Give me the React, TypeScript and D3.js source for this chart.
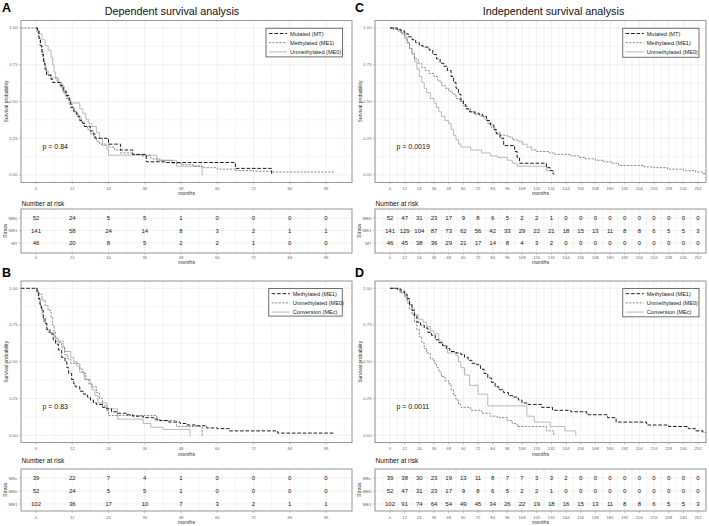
import React from 'react';
import * as d3 from 'd3';

type Pt = [number, number];

const FONT = "'Liberation Sans', Arial, Helvetica, sans-serif";

// ---------- tick labels ----------
const ticksAB = [0, 12, 24, 36, 48, 60, 72, 84, 96];
const ticksCD = [0, 12, 24, 36, 48, 60, 72, 84, 96, 108, 120, 132, 144, 156, 168, 180, 192, 204, 216, 228, 240, 252];
const yTicks = [0, 0.25, 0.5, 0.75, 1];
const yTickLabels = ['0.00', '0.25', '0.50', '0.75', '1.00'];
const yGrid = [0, 0.125, 0.25, 0.375, 0.5, 0.625, 0.75, 0.875, 1];

// ---------- survival curves (time in months, survival probability) ----------
const A_MT: Pt[] = [[0, 1], [0.5, 0.98], [1, 0.93], [1.5, 0.88], [2, 0.82], [2.5, 0.76], [3, 0.72], [3.5, 0.68], [5, 0.65], [5.5, 0.63], [8, 0.61], [9, 0.57], [10, 0.54], [11, 0.5], [11.5, 0.46], [12.5, 0.43], [13.5, 0.4], [14.5, 0.37], [15.5, 0.35], [16, 0.33], [18, 0.3], [19, 0.28], [19.5, 0.25], [24, 0.21], [28, 0.17], [32, 0.14], [36.5, 0.09], [43, 0.085], [66, 0.045], [78, 0.01], [78.3, 0.01]];
const A_ME1: Pt[] = [[-5, 1], [0.3, 0.97], [0.8, 0.93], [1.3, 0.88], [1.8, 0.84], [2.3, 0.79], [2.8, 0.75], [3.3, 0.71], [4, 0.68], [5, 0.66], [7, 0.63], [8, 0.6], [9, 0.56], [10, 0.52], [11, 0.48], [12, 0.45], [13, 0.42], [14, 0.39], [15, 0.36], [16, 0.33], [17, 0.31], [18, 0.28], [19, 0.26], [20, 0.23], [21, 0.21], [24, 0.19], [26, 0.17], [28, 0.15], [32, 0.14], [35, 0.13], [38, 0.11], [41, 0.1], [45, 0.08], [48, 0.07], [52, 0.06], [55, 0.05], [60, 0.04], [66, 0.03], [72, 0.025], [78, 0.02], [99, 0.02]];
const AB_ME0: Pt[] = [[0, 1], [0.5, 0.98], [1, 0.96], [2, 0.92], [3, 0.88], [4, 0.85], [5, 0.8], [5.5, 0.75], [6, 0.7], [6.5, 0.66], [7.5, 0.63], [8.5, 0.6], [9.5, 0.55], [10.5, 0.52], [11.5, 0.49], [14.5, 0.45], [15.5, 0.42], [16.5, 0.38], [17.5, 0.35], [18.5, 0.33], [20, 0.29], [21, 0.25], [22, 0.2], [23.5, 0.17], [24, 0.135], [40, 0.1], [46.5, 0.06], [55, 0], [55.2, 0]];
const B_ME1: Pt[] = [[-5, 1], [0.3, 0.97], [0.8, 0.93], [1.3, 0.89], [1.8, 0.85], [2.4, 0.8], [3, 0.76], [3.6, 0.72], [4.6, 0.69], [5.7, 0.65], [6.5, 0.62], [7.4, 0.58], [8.5, 0.53], [9.6, 0.5], [10.2, 0.46], [10.8, 0.42], [11.8, 0.38], [12.5, 0.35], [13, 0.33], [14.5, 0.3], [15.7, 0.28], [17, 0.26], [18, 0.24], [19, 0.22], [20, 0.21], [22, 0.19], [23.4, 0.18], [25, 0.16], [27, 0.15], [30, 0.14], [32, 0.13], [35.5, 0.12], [39, 0.11], [41, 0.1], [44, 0.09], [47.7, 0.08], [50, 0.07], [53, 0.065], [56.5, 0.05], [60, 0.045], [64, 0.03], [80, 0.015], [99, 0.015]];
const B_MEc: Pt[] = [[0, 1], [0.5, 0.97], [1, 0.92], [1.5, 0.87], [2, 0.82], [2.5, 0.77], [3.5, 0.72], [4, 0.7], [6, 0.67], [6.5, 0.64], [9, 0.6], [9.5, 0.57], [11.5, 0.53], [12.5, 0.5], [13.5, 0.47], [14.5, 0.43], [16, 0.38], [18, 0.35], [18.5, 0.31], [19.5, 0.27], [20.5, 0.22], [23.5, 0.18], [27, 0.11], [35.5, 0.08], [38, 0.055], [42, 0.04], [51, 0], [51.2, 0]];

const C_MT: Pt[] = [[0, 1], [6, 0.99], [9, 0.98], [12, 0.96], [15, 0.94], [18, 0.92], [21, 0.9], [24, 0.88], [27, 0.87], [32, 0.85], [35, 0.82], [38, 0.79], [41, 0.76], [44, 0.74], [47, 0.71], [50, 0.67], [52, 0.63], [54, 0.59], [56, 0.55], [58, 0.51], [60, 0.48], [62, 0.45], [65, 0.43], [69, 0.42], [73, 0.41], [76, 0.4], [79, 0.37], [82, 0.34], [85, 0.31], [87, 0.28], [90, 0.25], [93, 0.2], [102, 0.16], [104, 0.12], [106, 0.08], [128, 0.05], [131, 0.03], [133, 0.01], [134, 0.01]];
const C_ME1: Pt[] = [[0, 1], [3, 0.99], [6, 0.98], [9, 0.96], [12, 0.93], [14, 0.9], [16, 0.86], [18, 0.83], [20, 0.79], [23, 0.76], [26, 0.73], [29, 0.71], [32, 0.69], [36, 0.67], [39, 0.64], [42, 0.61], [45, 0.59], [48, 0.57], [51, 0.55], [54, 0.52], [57, 0.5], [60, 0.47], [63, 0.45], [66, 0.43], [70, 0.41], [74, 0.4], [77, 0.38], [80, 0.35], [83, 0.32], [86, 0.29], [90, 0.27], [96, 0.26], [100, 0.24], [104, 0.23], [108, 0.21], [112, 0.19], [116, 0.17], [120, 0.16], [130, 0.15], [135, 0.14], [148, 0.13], [155, 0.12], [160, 0.11], [168, 0.1], [175, 0.09], [181, 0.08], [187, 0.065], [208, 0.055], [216, 0.05], [227, 0.04], [240, 0.03], [250, 0.02], [256, 0.01], [259, 0.01]];
const CD_ME0: Pt[] = [[0, 1], [6, 0.99], [9, 0.97], [12, 0.94], [14, 0.9], [16, 0.86], [18, 0.82], [20, 0.77], [22, 0.72], [24, 0.67], [26, 0.63], [28, 0.59], [30, 0.56], [33, 0.52], [36, 0.49], [38, 0.46], [40, 0.43], [42, 0.4], [45, 0.37], [48, 0.35], [50, 0.31], [52, 0.27], [54, 0.24], [56, 0.21], [58, 0.19], [66, 0.17], [75, 0.15], [82, 0.13], [88, 0.12], [96, 0.1], [100, 0.08], [104, 0.06], [128, 0.03], [134, 0], [134.5, 0]];
const D_ME1: Pt[] = [[0, 1], [6, 0.995], [9, 0.98], [12, 0.96], [14, 0.93], [16, 0.89], [18, 0.85], [20, 0.81], [22, 0.77], [25, 0.75], [28, 0.73], [31, 0.7], [34, 0.68], [37, 0.65], [40, 0.63], [43, 0.61], [46, 0.59], [49, 0.57], [54, 0.56], [58, 0.55], [61, 0.53], [64, 0.51], [67, 0.49], [71, 0.48], [74, 0.45], [77, 0.42], [80, 0.39], [83, 0.36], [86, 0.33], [89, 0.31], [93, 0.29], [97, 0.27], [101, 0.26], [105, 0.24], [108, 0.22], [112, 0.21], [124, 0.19], [133, 0.17], [148, 0.16], [161, 0.14], [178, 0.12], [185, 0.09], [210, 0.07], [228, 0.06], [244, 0.045], [250, 0.03], [256, 0.02], [259, 0.02]];
const D_MEc: Pt[] = [[0, 1], [8, 0.97], [12, 0.95], [14, 0.92], [16, 0.89], [18, 0.86], [20, 0.82], [23, 0.79], [27, 0.77], [30, 0.74], [33, 0.71], [36, 0.69], [40, 0.64], [43, 0.61], [47, 0.56], [54, 0.54], [56, 0.5], [58, 0.46], [61, 0.41], [65, 0.34], [72, 0.28], [80, 0.2], [112, 0.13], [118, 0.09], [131, 0.06], [143, 0.03], [152, 0], [152.5, 0]];

// ---------- numbers at risk ----------
const riskA_ME0 = [52, 24, 5, 5, 1, 0, 0, 0, 0];
const riskA_ME1 = [141, 58, 24, 14, 8, 3, 2, 1, 1];
const riskA_MT = [46, 20, 8, 5, 2, 2, 1, 0, 0];
const riskB_MEc = [39, 22, 7, 4, 1, 0, 0, 0, 0];
const riskB_ME0 = [52, 24, 5, 5, 1, 0, 0, 0, 0];
const riskB_ME1 = [102, 36, 17, 10, 7, 3, 2, 1, 1];
const riskC_ME0 = [52, 47, 31, 23, 17, 9, 8, 6, 5, 2, 2, 1, 0, 0, 0, 0, 0, 0, 0, 0, 0, 0];
const riskC_ME1 = [141, 129, 104, 87, 73, 62, 56, 42, 33, 29, 22, 21, 18, 15, 13, 11, 8, 8, 6, 5, 5, 3];
const riskC_MT = [46, 45, 38, 36, 29, 21, 17, 14, 8, 4, 3, 2, 0, 0, 0, 0, 0, 0, 0, 0, 0, 0];
const riskD_MEc = [39, 38, 30, 23, 19, 13, 11, 8, 7, 7, 3, 3, 2, 0, 0, 0, 0, 0, 0, 0, 0, 0];
const riskD_ME0 = [52, 47, 31, 23, 17, 9, 8, 6, 5, 2, 2, 1, 0, 0, 0, 0, 0, 0, 0, 0, 0, 0];
const riskD_ME1 = [102, 91, 74, 64, 54, 49, 45, 34, 26, 22, 19, 18, 16, 15, 13, 11, 8, 8, 6, 5, 5, 3];

// ---------- styles ----------
const DARK = { color: '#1c1c1c', dash: '3.6,1.8', width: 1.0 };
const MID = { color: '#7a7a7a', dash: '2.2,1.3', width: 0.85 };
const LIGHT = { color: '#b9b9b9', dash: '', width: 1.0 };

interface Series { name: string; data: Pt[]; color: string; dash: string; width: number; }
interface PanelCfg {
  letter: string; letterX: number; letterY: number;
  title?: string; titleX?: number;
  x0: number; x1: number; y0: number; y1: number;
  xDom: [number, number]; xRange: [number, number]; yRange: [number, number];
  xTicks: number[];
  series: Series[];
  legend: { x: number; y: number; w: number; h: number };
  pText: string; pY: number;
  riskLabels: string[]; riskValues: number[][];
  rTop: number; rBottom: number; rRow0: number; rRow1: number; rTitleY: number; rTickY: number; rMonthsY: number;
  xTickY: number; xMonthsY: number;
}

const colA = { x0: 21, x1: 352, xDom: [0, 96] as [number, number], xRange: [36, 326] as [number, number], xTicks: ticksAB };
const colC = { x0: 375, x1: 706, xDom: [0, 252] as [number, number], xRange: [390, 698] as [number, number], xTicks: ticksCD };
const rowTop = { y0: 20.6, y1: 182.4, yRange: [175, 28] as [number, number], letterY: 12, legendY: 28.3, pY: 148.5,
  rTop: 209, rBottom: 253, rRow0: 218, rRow1: 243, rTitleY: 205.5, rTickY: 259, rMonthsY: 264, xTickY: 189.6, xMonthsY: 195 };
const rowBot = { y0: 281, y1: 442.6, yRange: [435.3, 288.3] as [number, number], letterY: 276.5, legendY: 288.5, pY: 409,
  rTop: 469, rBottom: 511, rRow0: 478, rRow1: 504, rTitleY: 462.5, rTickY: 519, rMonthsY: 524, xTickY: 450.2, xMonthsY: 455.6 };

const panels: PanelCfg[] = [
  {
    letter: 'A', letterX: 2, title: 'Dependent survival analysis', titleX: 172, ...colA, ...rowTop,
    series: [
      { name: 'Mutated (MT)', data: A_MT, ...DARK },
      { name: 'Methylated (ME1)', data: A_ME1, ...MID },
      { name: 'Unmethylated (ME0)', data: AB_ME0, ...LIGHT },
    ],
    legend: { x: 266, y: rowTop.legendY, w: 76.5, h: 28.6 },
    pText: 'p = 0.84',
    riskLabels: ['ME0', 'ME1', 'MT'], riskValues: [riskA_ME0, riskA_ME1, riskA_MT],
  },
  {
    letter: 'B', letterX: 2, ...colA, ...rowBot,
    series: [
      { name: 'Methylated (ME1)', data: B_ME1, ...DARK },
      { name: 'Unmethylated (ME0)', data: AB_ME0, ...MID },
      { name: 'Conversion (MEc)', data: B_MEc, ...LIGHT },
    ],
    legend: { x: 268.7, y: rowBot.legendY, w: 73.6, h: 27.6 },
    pText: 'p = 0.83',
    riskLabels: ['MEc', 'ME0', 'ME1'], riskValues: [riskB_MEc, riskB_ME0, riskB_ME1],
  },
  {
    letter: 'C', letterX: 355, title: 'Independent survival analysis', titleX: 553.5, ...colC, ...rowTop,
    series: [
      { name: 'Mutated (MT)', data: C_MT, ...DARK },
      { name: 'Methylated (ME1)', data: C_ME1, ...MID },
      { name: 'Unmethylated (ME0)', data: CD_ME0, ...LIGHT },
    ],
    legend: { x: 622.7, y: rowTop.legendY, w: 76.3, h: 29 },
    pText: 'p = 0.0019',
    riskLabels: ['ME0', 'ME1', 'MT'], riskValues: [riskC_ME0, riskC_ME1, riskC_MT],
  },
  {
    letter: 'D', letterX: 355, ...colC, ...rowBot,
    series: [
      { name: 'Methylated (ME1)', data: D_ME1, ...DARK },
      { name: 'Unmethylated (ME0)', data: CD_ME0, ...MID },
      { name: 'Conversion (MEc)', data: D_MEc, ...LIGHT },
    ],
    legend: { x: 622.7, y: rowBot.legendY, w: 76.3, h: 28.3 },
    pText: 'p = 0.0011',
    riskLabels: ['MEc', 'ME0', 'ME1'], riskValues: [riskD_MEc, riskD_ME0, riskD_ME1],
  },
];

const GRID = '#e6e6e6';
const BORDER = '#8a8a8a';
const TICKTXT = '#6a6a6a';

function Panel({ cfg }: { cfg: PanelCfg }) {
  const xs = d3.scaleLinear().domain(cfg.xDom).range(cfg.xRange);
  const ys = d3.scaleLinear().domain([0, 1]).range(cfg.yRange);
  const tMin = xs.invert(cfg.x0), tMax = xs.invert(cfg.x1);
  const vGrid: number[] = [];
  for (let t = Math.ceil(tMin / 6) * 6; t <= tMax; t += 6) vGrid.push(t);
  const line = d3.line<Pt>().x(d => xs(d[0])).y(d => ys(d[1])).curve(d3.curveStepAfter);
  const clipId = 'clip' + cfg.letter;
  const rs = d3.scalePoint<string>().domain(cfg.riskLabels).range([cfg.rRow0, cfg.rRow1]);
  const plotMidY = (cfg.y0 + cfg.y1) / 2;
  const riskMidY = (cfg.rTop + cfg.rBottom) / 2;
  const xMid = (cfg.x0 + cfg.x1) / 2;
  const lg = cfg.legend;

  return (
    <g>
      <text x={cfg.letterX} y={cfg.letterY} fontSize={12.5} fontWeight="bold" fill="#000">{cfg.letter}</text>
      {cfg.title && (
        <text x={cfg.titleX} y={15} fontSize={10.8} textAnchor="middle" fill="#111">{cfg.title}</text>
      )}
      <defs>
        <clipPath id={clipId}>
          <rect x={cfg.x0} y={cfg.y0} width={cfg.x1 - cfg.x0} height={cfg.y1 - cfg.y0} />
        </clipPath>
      </defs>
      {/* grid */}
      {vGrid.map(t => (
        <line key={'v' + t} x1={xs(t)} x2={xs(t)} y1={cfg.y0} y2={cfg.y1} stroke={GRID} strokeWidth={t % 12 === 0 ? 0.6 : 0.35} />
      ))}
      {yGrid.map(v => (
        <line key={'h' + v} x1={cfg.x0} x2={cfg.x1} y1={ys(v)} y2={ys(v)} stroke={GRID} strokeWidth={(v * 4) % 1 === 0 ? 0.6 : 0.35} />
      ))}
      {/* curves */}
      <g clipPath={`url(#${clipId})`}>
        {cfg.series.slice().reverse().map(s => (
          <path key={s.name} d={line(s.data) || ''} fill="none" stroke={s.color} strokeWidth={s.width} strokeDasharray={s.dash || undefined} />
        ))}
      </g>
      <rect x={cfg.x0} y={cfg.y0} width={cfg.x1 - cfg.x0} height={cfg.y1 - cfg.y0} fill="none" stroke={BORDER} strokeWidth={0.9} />
      {/* y axis */}
      {yTicks.map((v, i) => (
        <g key={'yt' + v}>
          <line x1={cfg.x0 - 2} x2={cfg.x0} y1={ys(v)} y2={ys(v)} stroke={BORDER} strokeWidth={0.5} />
          <text x={cfg.x0 - 3.5} y={ys(v) + 1.4} fontSize={4.2} textAnchor="end" fill={TICKTXT}>{yTickLabels[i]}</text>
        </g>
      ))}
      <text transform={`translate(${cfg.x0 - 13.5},${plotMidY}) rotate(-90)`} fontSize={5} textAnchor="middle" fill="#333">Survival probability</text>
      {/* x axis */}
      {cfg.xTicks.map(t => (
        <g key={'xt' + t}>
          <line x1={xs(t)} x2={xs(t)} y1={cfg.y1} y2={cfg.y1 + 2} stroke={BORDER} strokeWidth={0.5} />
          <text x={xs(t)} y={cfg.xTickY} fontSize={4.2} textAnchor="middle" fill={TICKTXT}>{t}</text>
        </g>
      ))}
      <text x={xMid} y={cfg.xMonthsY} fontSize={5.2} textAnchor="middle" fill="#333">months</text>
      {/* p value */}
      <text x={cfg.x0 + 21.5} y={cfg.pY} fontSize={7} fill="#111">{cfg.pText}</text>
      {/* legend */}
      <rect x={lg.x} y={lg.y} width={lg.w} height={lg.h} fill="#fff" stroke="#6e6e6e" strokeWidth={1} />
      {cfg.series.map((s, i) => {
        const yy = lg.y + 5.2 + i * 9.2;
        return (
          <g key={'lg' + s.name}>
            <line x1={lg.x + 3} x2={lg.x + 21} y1={yy} y2={yy} stroke={s.color} strokeWidth={s.width} strokeDasharray={s.dash || undefined} />
            <text x={lg.x + 24} y={yy + 2} fontSize={5.6} fill="#222">{s.name}</text>
          </g>
        );
      })}
      {/* risk table */}
      <text x={cfg.x0 + 0.5} y={cfg.rTitleY} fontSize={6.6} fill="#111">Number at risk</text>
      {vGrid.map(t => (
        <line key={'rv' + t} x1={xs(t)} x2={xs(t)} y1={cfg.rTop} y2={cfg.rBottom} stroke={GRID} strokeWidth={t % 12 === 0 ? 0.6 : 0.35} />
      ))}
      {cfg.riskLabels.map(l => (
        <line key={'rh' + l} x1={cfg.x0} x2={cfg.x1} y1={rs(l)} y2={rs(l)} stroke={GRID} strokeWidth={0.6} />
      ))}
      <rect x={cfg.x0} y={cfg.rTop} width={cfg.x1 - cfg.x0} height={cfg.rBottom - cfg.rTop} fill="none" stroke={BORDER} strokeWidth={0.9} />
      {cfg.riskLabels.map((l, r) => (
        <g key={'rl' + l}>
          <line x1={cfg.x0 - 2} x2={cfg.x0} y1={rs(l)} y2={rs(l)} stroke={BORDER} strokeWidth={0.5} />
          <text x={cfg.x0 - 3.5} y={(rs(l) || 0) + 1.5} fontSize={4.4} textAnchor="end" fill={TICKTXT}>{l}</text>
          {cfg.riskValues[r].map((v, j) => (
            <text key={j} x={xs(cfg.xTicks[j])} y={(rs(l) || 0) + 2.1} fontSize={6} textAnchor="middle" fill="#222">{v}</text>
          ))}
        </g>
      ))}
      <text transform={`translate(${cfg.x0 - 14.5},${riskMidY}) rotate(-90)`} fontSize={5.2} textAnchor="middle" fill="#333">Strata</text>
      {cfg.xTicks.map(t => (
        <g key={'rxt' + t}>
          <line x1={xs(t)} x2={xs(t)} y1={cfg.rBottom} y2={cfg.rBottom + 2} stroke={BORDER} strokeWidth={0.5} />
          <text x={xs(t)} y={cfg.rTickY} fontSize={4.2} textAnchor="middle" fill={TICKTXT}>{t}</text>
        </g>
      ))}
      <text x={xMid} y={cfg.rMonthsY} fontSize={5.2} textAnchor="middle" fill="#333">months</text>
    </g>
  );
}

export default function App() {
  return (
    <svg width={709} height={526} viewBox="0 0 709 526" style={{ position: 'absolute', left: 0, top: 0, background: '#fff' }} fontFamily={FONT}>
      <rect width={709} height={526} fill="#fff" />
      {panels.map(p => <Panel key={p.letter} cfg={p} />)}
    </svg>
  );
}
